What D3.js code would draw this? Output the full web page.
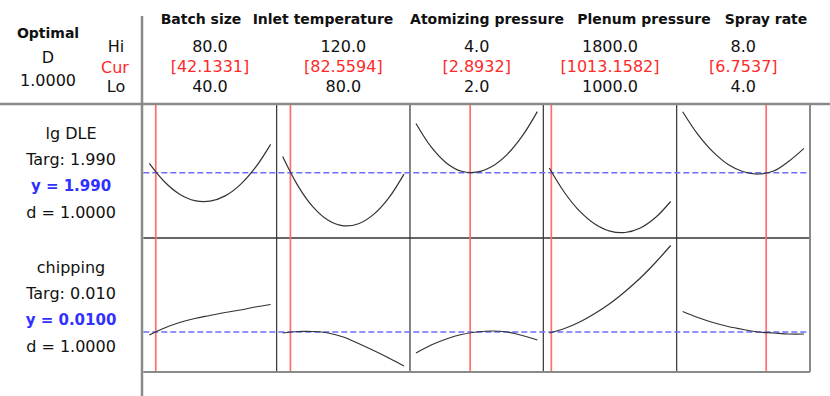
<!DOCTYPE html>
<html>
<head>
<meta charset="utf-8">
<script src="https://cdn.jsdelivr.net/npm/d3@7"></script>
<style>
  html, body { margin: 0; padding: 0; background: #fff; }
  svg { display: block; font-family: 'DejaVu Sans', sans-serif; }
</style>
</head>
<body>
<div id="chart"></div>
<script>
// factors and their settings
const factors = ['Batch size', 'Inlet temperature', 'Atomizing pressure', 'Plenum pressure', 'Spray rate'];
const hiValues = [80, 120, 4, 1800, 8];
const loValues = [40, 80, 2, 1000, 4];
const curValues = [42.1331, 82.5594, 2.8932, 1013.1582, 6.7537];

// responses
const responses = ['lg DLE', 'chipping'];
const targets = [1.990, 0.010];
const predicted = [1.990, 0.0100];
const targetDigits = [3, 3];
const predictedDigits = [3, 4];
const desirability = [1.0000, 1.0000];
const compositeD = 1.0000;

// response traces, 9 points evenly spaced from Lo to Hi for each factor
const lgDleCurves = [
  [1.9985, 1.9818, 1.9705, 1.9646, 1.9641, 1.9689, 1.9792, 1.9948, 2.0158],
  [2.0047, 1.9783, 1.9589, 1.9467, 1.9417, 1.9436, 1.9521, 1.9671, 1.9887],
  [2.0347, 2.0134, 1.9989, 1.9913, 1.9905, 1.9956, 2.0065, 2.0232, 2.0456],
  [1.9943, 1.9720, 1.9550, 1.9433, 1.9368, 1.9356, 1.9397, 1.9492, 1.9638],
  [2.0454, 2.0248, 2.0089, 1.9975, 1.9909, 1.9888, 1.9915, 2.0004, 2.0121]
];
const chippingCurves = [
  [0.0094, 0.0108, 0.0119, 0.0127, 0.0133, 0.0139, 0.0144, 0.0150, 0.0155],
  [0.0098, 0.0101, 0.0101, 0.0098, 0.0090, 0.0077, 0.0063, 0.0048, 0.0032],
  [0.0058, 0.0074, 0.0086, 0.0095, 0.0100, 0.0102, 0.0100, 0.0093, 0.0084],
  [0.0098, 0.0107, 0.0120, 0.0137, 0.0157, 0.0181, 0.0208, 0.0239, 0.0273],
  [0.0141, 0.0129, 0.0119, 0.0111, 0.0105, 0.0100, 0.0098, 0.0096, 0.0096]
];
const curves = [lgDleCurves, chippingCurves];

// layout
const width = 830, height = 396;
const gridLeft = 143.3, gridRight = 810, gridTop = 104, gridBottom = 372;
const sepX = 142;
const colW = (gridRight - gridLeft) / factors.length;
const rowH = (gridBottom - gridTop) / responses.length;
const headerCenters = [201, 323, 487, 644, 766];
const yDomains = [[1.9306, 2.0525], [0.002, 0.0288]];

const black = '#111', red = '#ff2a2a', blue = '#3030ff';

const svg = d3.select('#chart').append('svg')
  .attr('width', width)
  .attr('height', height);

svg.append('rect').attr('width', width).attr('height', height).attr('fill', '#fff');

const xScales = factors.map((f, i) => {
  const left = gridLeft + i * colW;
  return d3.scaleLinear().domain([loValues[i], hiValues[i]]).range([left + 6, left + colW - 6]);
});
const yScales = responses.map((r, j) => {
  const top = gridTop + j * rowH;
  return d3.scaleLinear().domain(yDomains[j]).range([top + rowH, top]);
});

// ---- header block ----
const txt = (x, y, s, opts = {}) => svg.append('text')
  .attr('x', x).attr('y', y)
  .attr('text-anchor', opts.anchor || 'middle')
  .attr('font-size', opts.size || 16)
  .attr('font-weight', opts.weight || 'normal')
  .attr('fill', opts.color || black)
  .text(s);

txt(48, 37.5, 'Optimal', { size: 14, weight: 'bold' });
txt(48, 62.5, 'D');
txt(48, 86, compositeD.toFixed(4));
txt(116, 51.5, 'Hi');
txt(115, 72.5, 'Cur', { color: red });
txt(116, 91.5, 'Lo');

factors.forEach((f, i) => {
  const cx = gridLeft + (i + 0.5) * colW;
  txt(headerCenters[i], 24, f, { size: 14, weight: 'bold' });
  txt(cx, 51.5, hiValues[i].toFixed(1));
  txt(cx, 71.5, '[' + curValues[i].toFixed(4) + ']', { color: red });
  txt(cx, 91.5, loValues[i].toFixed(1));
});

// response labels
responses.forEach((r, j) => {
  const top = gridTop + j * rowH;
  txt(71, top + 35, r);
  txt(71, top + 61, 'Targ: ' + targets[j].toFixed(targetDigits[j]));
  txt(71, top + 87, 'y = ' + predicted[j].toFixed(predictedDigits[j]), { color: blue, size: 15, weight: 'bold' });
  txt(71, top + 114, 'd = ' + desirability[j].toFixed(4));
});

// ---- panels ----
const line = d3.line().curve(d3.curveCatmullRom);

factors.forEach((f, i) => {
  const left = gridLeft + i * colW;
  // internal column dividers
  if (i > 0) {
    svg.append('line')
      .attr('x1', left).attr('x2', left)
      .attr('y1', gridTop).attr('y2', gridBottom)
      .attr('stroke', '#333').attr('stroke-width', 1.2);
  }
});
svg.append('line')
  .attr('x1', gridLeft).attr('x2', gridRight)
  .attr('y1', gridTop + rowH).attr('y2', gridTop + rowH)
  .attr('stroke', '#333').attr('stroke-width', 1.4);

// current setting lines
factors.forEach((f, i) => {
  const x = xScales[i](curValues[i]);
  svg.append('line')
    .attr('x1', x).attr('x2', x)
    .attr('y1', gridTop).attr('y2', gridBottom)
    .attr('stroke', '#ff6e6e').attr('stroke-width', 1.7);
});

// target (predicted) lines
responses.forEach((r, j) => {
  const y = yScales[j](predicted[j]);
  svg.append('line')
    .attr('x1', gridLeft).attr('x2', gridRight)
    .attr('y1', y).attr('y2', y)
    .attr('stroke', '#6c6cff').attr('stroke-width', 1.6)
    .attr('stroke-dasharray', '6,3');
});

// traces
responses.forEach((r, j) => {
  factors.forEach((f, i) => {
    const vals = curves[j][i];
    const step = (hiValues[i] - loValues[i]) / (vals.length - 1);
    const pts = vals.map((v, k) => [xScales[i](loValues[i] + k * step), yScales[j](v)]);
    svg.append('path')
      .attr('d', line(pts))
      .attr('fill', 'none')
      .attr('stroke', '#333')
      .attr('stroke-width', 1.2);
  });
});

// outer frame + separators
svg.append('line')
  .attr('x1', 0).attr('x2', width)
  .attr('y1', gridTop).attr('y2', gridTop)
  .attr('stroke', '#8a8a8a').attr('stroke-width', 2.5);
svg.append('line')
  .attr('x1', sepX).attr('x2', sepX)
  .attr('y1', 16).attr('y2', height)
  .attr('stroke', '#8a8a8a').attr('stroke-width', 2.5);
svg.append('line')
  .attr('x1', gridLeft).attr('x2', gridRight)
  .attr('y1', gridBottom).attr('y2', gridBottom)
  .attr('stroke', '#8a8a8a').attr('stroke-width', 2);
svg.append('line')
  .attr('x1', gridRight).attr('x2', gridRight)
  .attr('y1', gridTop).attr('y2', gridBottom)
  .attr('stroke', '#8a8a8a').attr('stroke-width', 2);
</script>
</body>
</html>
